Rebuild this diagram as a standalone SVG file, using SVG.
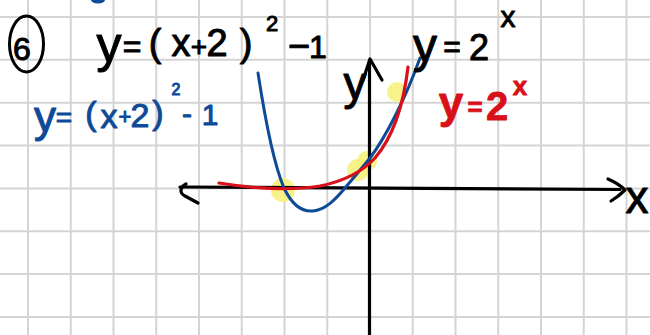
<svg xmlns="http://www.w3.org/2000/svg" width="650" height="335" viewBox="0 0 650 335">
<style>
.grid line{stroke:#d4d4d4;stroke-width:2}
.ax{fill:none;stroke:#000;stroke-width:3.2;stroke-linecap:round;stroke-linejoin:round}
.hl{fill:#f6f176;opacity:0.85}
.t{font-family:"Liberation Sans",Arial,sans-serif;text-anchor:middle;stroke-linejoin:round}
.k{fill:#000;stroke:#000;stroke-width:1}
.b{fill:#0d4a97;stroke:#0d4a97;stroke-width:1}
.r{fill:#d8101a;stroke:#d8101a;stroke-width:0.8}
</style>
<rect width="650" height="335" fill="#fff"/>
<g id="grid" class="grid">
<line x1="28" y1="0" x2="28" y2="335"/><line x1="70.75" y1="0" x2="70.75" y2="335"/><line x1="113.5" y1="0" x2="113.5" y2="335"/><line x1="156.25" y1="0" x2="156.25" y2="335"/><line x1="199" y1="0" x2="199" y2="335"/><line x1="241.75" y1="0" x2="241.75" y2="335"/><line x1="284.5" y1="0" x2="284.5" y2="335"/><line x1="327.25" y1="0" x2="327.25" y2="335"/><line x1="370" y1="0" x2="370" y2="335"/><line x1="412.75" y1="0" x2="412.75" y2="335"/><line x1="455.5" y1="0" x2="455.5" y2="335"/><line x1="498.25" y1="0" x2="498.25" y2="335"/><line x1="541" y1="0" x2="541" y2="335"/><line x1="583.75" y1="0" x2="583.75" y2="335"/><line x1="626.5" y1="0" x2="626.5" y2="335"/>
<line x1="0" y1="17" x2="650" y2="17"/><line x1="0" y1="59.85" x2="650" y2="59.85"/><line x1="0" y1="102.7" x2="650" y2="102.7"/><line x1="0" y1="145.55" x2="650" y2="145.55"/><line x1="0" y1="188.4" x2="650" y2="188.4"/><line x1="0" y1="231.25" x2="650" y2="231.25"/><line x1="0" y1="274.1" x2="650" y2="274.1"/><line x1="0" y1="316.95" x2="650" y2="316.95"/>
</g>
<ellipse cx="98" cy="0" rx="7" ry="3.5" fill="#0d4a97"/>
<g id="highlights">
<circle class="hl" cx="283" cy="190" r="12"/>
<circle class="hl" cx="358" cy="170" r="11"/>
<circle class="hl" cx="367" cy="161" r="10"/>
<circle class="hl" cx="397" cy="92" r="10"/>
</g>
<g id="axes">
<path class="ax" d="M180,187 L620,189.5"/>
<path class="ax" d="M186,184 C180,187 179,193 185,196 L198,203"/>
<path class="ax" d="M608,179 C615,182 621,186 625,190 C621,194 616,198 611,201"/>
<path class="ax" d="M369.5,335 L369.5,60"/>
<path class="ax" d="M363,80 L370,59 L382,80"/>
<text class="t k" x="637" y="213" font-size="46">x</text>
<text class="t k" x="355" y="99" font-size="46">y</text>
</g>
<g id="curves">
<path fill="none" stroke="#0d4a97" stroke-width="3" stroke-linecap="round" d="M258,73 C264,112 272,160 284,188 C292,205 302,212 313,211 C325,210 335,200 345,188 C355,176 362,168 370,158 C385,138 405,100 420,58"/>
<path fill="none" stroke="#d8101a" stroke-width="3.2" stroke-linecap="round" d="M219,183 C250,188 290,191 320,186 C345,181 362,172 375,158 C392,138 403,110 408,67"/>
</g>
<g id="number">
<ellipse cx="26.5" cy="44" rx="17" ry="28" fill="none" stroke="#000" stroke-width="3"/>
<text class="t k" x="22" y="60" font-size="32">6</text>
</g>
<g id="label-main">
<text class="t k" font-size="38"><tspan x="109" y="62" font-size="50">y</tspan><tspan x="132" y="57" font-size="32">=</tspan><tspan x="155" y="56">(</tspan><tspan x="181" y="56">x</tspan><tspan x="199" y="56" font-size="28">+</tspan><tspan x="217" y="56">2</tspan><tspan x="246" y="56">)</tspan><tspan x="272" y="31" font-size="22">2</tspan><tspan x="299" y="59">−</tspan><tspan x="318" y="58" font-size="32">1</tspan></text>
</g>
<g id="label-blue">
<text class="t b" font-size="34"><tspan x="45" y="132" font-size="44">y</tspan><tspan x="64" y="127" font-size="28">=</tspan><tspan x="91" y="125">(</tspan><tspan x="109" y="128">x</tspan><tspan x="125" y="124" font-size="22">+</tspan><tspan x="140" y="127">2</tspan><tspan x="158" y="124">)</tspan><tspan x="176" y="95" font-size="16">2</tspan><tspan x="187" y="124" font-size="30">-</tspan><tspan x="210" y="125" font-size="30">1</tspan></text>
</g>
<g id="label-black-exp">
<text class="t k"><tspan x="425" y="62" font-size="48">y</tspan><tspan x="452" y="57" font-size="30">=</tspan><tspan x="479" y="60" font-size="36">2</tspan><tspan x="508" y="27" font-size="30">x</tspan></text>
</g>
<g id="label-red">
<text class="t r" font-weight="bold"><tspan x="451" y="118" font-size="44">y</tspan><tspan x="475" y="116" font-size="26">=</tspan><tspan x="497" y="120" font-size="40">2</tspan><tspan x="520" y="95" font-size="26">x</tspan></text>
</g>
</svg>
